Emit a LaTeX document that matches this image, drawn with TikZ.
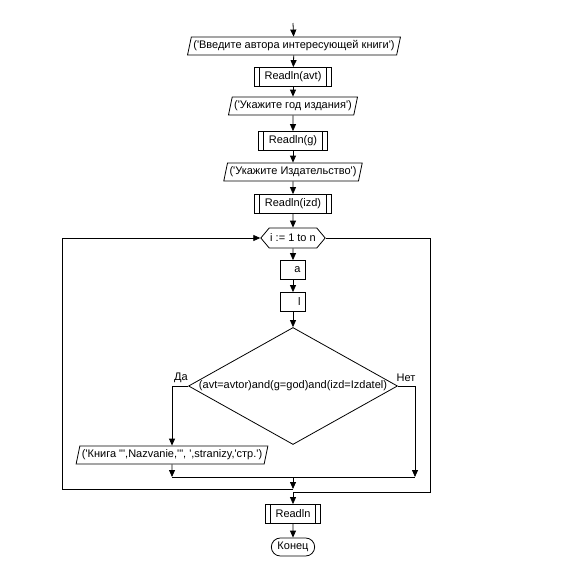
\documentclass[tikz,border=0pt]{standalone}
\usepackage{fontspec}
\newfontfamily\chartfont{Liberation Sans}[Ligatures=TeXOff]
\usetikzlibrary{arrows.meta, shapes.geometric, shapes.misc, shapes.symbols}

\begin{document}
\begin{tikzpicture}[x=1pt, y=-1pt, >={Triangle[width=6pt,length=7pt]}, line width=0.8pt,
  every node/.style={font=\chartfont\fontsize{11}{12}\selectfont}]
\tikzstyle{io node}=[draw, trapezium, trapezium left angle=70, trapezium right angle=110, trapezium stretches body, minimum height=18, inner xsep=2, inner ysep=0]
\tikzstyle{sub node}=[draw, rectangle, minimum height=19, inner xsep=10, inner ysep=0,
  path picture={
    \draw ([xshift=5]path picture bounding box.north west) -- ([xshift=5]path picture bounding box.south west);
    \draw ([xshift=-5]path picture bounding box.north east) -- ([xshift=-5]path picture bounding box.south east);
  }]
\tikzstyle{act node}=[draw, rectangle, minimum width=25, minimum height=19, text width=15, align=right, inner xsep=5, inner ysep=0]
\tikzstyle{loop node}=[draw, signal, signal to=east and west, signal pointer angle=100, minimum height=20, inner xsep=1, inner ysep=0]
\tikzstyle{cond node}=[draw, diamond, aspect=1.79, minimum width=209, minimum height=117, inner sep=0]
\tikzstyle{end node}=[draw, rounded rectangle, minimum width=50, minimum height=18, inner ysep=0]

\useasboundingbox (0,0) rectangle (566,576);

% input block
\coordinate (start) at (293,23);
\node[io node] (askavt) at (294,46) {('Введите автора интересующей книги')};
\node[sub node] (readavt) at (293,77) {Readln(avt)};
\node[io node] (askgod) at (293,106) {('Укажите год издания')};
\node[sub node] (readgod) at (293,141) {Readln(g)};
\node[io node] (askizd) at (293,172) {('Укажите Издательство')};
\node[sub node] (readizd) at (293,204) {Readln(izd)};

\draw[->] (start) -- (askavt);
\draw[->] (askavt) -- (readavt);
\draw[->] (readavt) -- (askgod);
\draw[->] (askgod) -- (readgod);
\draw[->] (readgod) -- (askizd);
\draw[->] (askizd) -- (readizd);

% loop body
\node[loop node] (loop) at (293,238) {i := 1 to n};
\node[act node] (acta) at (293,270) {a};
\node[act node] (actl) at (293,302) {l};
\node[cond node] (cond) at (293,386) {(avt=avtor)and(g=god)and(izd=Izdatel)};
\node (yes) at (181,378) {Да};
\node (no) at (406,378) {Нет};
\node[io node] (print) at (172,455) {('Книга "',Nazvanie,'", ',stranizy,'стр.')};

\draw[->] (readizd) -- (loop);
\draw[->] (loop) -- (acta);
\draw[->] (acta) -- (actl);
\draw[->] (actl) -- (cond);
\draw[->] (cond.west) -| (print.north);

\coordinate (mergeL) at (172,477);
\coordinate (mergeR) at (415,477);
\coordinate (merge) at (293,477);
\draw[->] (print.south) -- (mergeL);
\draw[->] (cond.east) -| (mergeR);
\draw (mergeL) -- (mergeR);

% back to the loop head and exit
\coordinate (back) at (293,489);
\coordinate (backL) at (62,489);
\coordinate (exitR) at (430,492);
\coordinate (exit) at (293,492);
\draw[->] (merge) -- (back);
\draw[->] (back) -- (backL) |- (loop.west);
\draw (loop.east) -| (exitR) -- (exit);

\node[sub node] (readln) at (293,514) {Readln};
\node[end node] (finish) at (293,547) {Конец};
\draw[->] (exit) -- (readln);
\draw[->] (readln) -- (finish);
\end{tikzpicture}
\end{document}
